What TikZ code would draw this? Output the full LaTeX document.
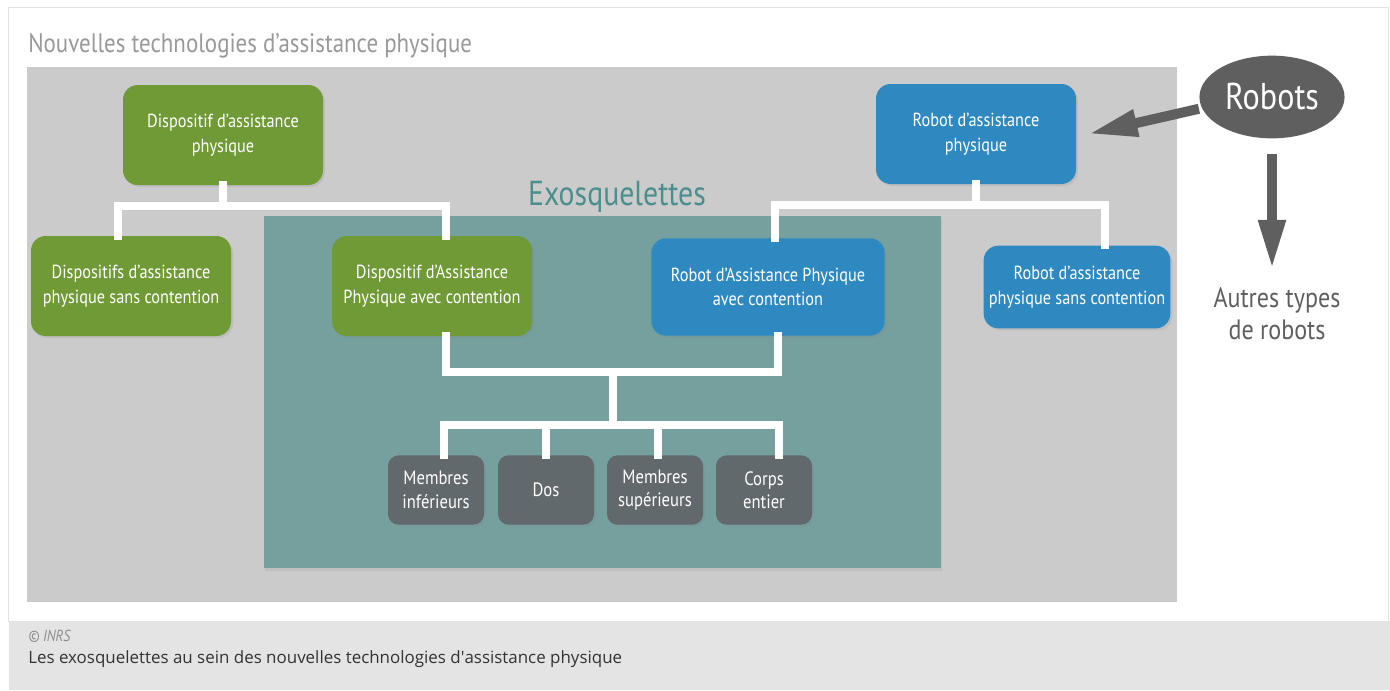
\documentclass[tikz,border=0pt]{standalone}
\usepackage{fontspec}
\setmainfont{PT Sans}[FakeStretch=0.86]
\newfontfamily\capfont{Open Sans}
\usetikzlibrary{shapes.geometric,arrows.meta,shadows}

\definecolor{framegray}{HTML}{E2E2E2}
\definecolor{capband}{HTML}{E4E4E4}
\definecolor{panelgray}{HTML}{CBCBCB}
\definecolor{exoteal}{HTML}{75A09E}
\definecolor{exotitle}{HTML}{4A8F8D}
\definecolor{dispgreen}{HTML}{6F9A36}
\definecolor{robotblue}{HTML}{2E89C1}
\definecolor{partgray}{HTML}{62696C}
\definecolor{arrowgray}{HTML}{5F5F5F}

\tikzset{
  box/.style={rounded corners=11pt, text=white, align=center,
    drop shadow={opacity=0.18, shadow xshift=1.5pt, shadow yshift=-1.5pt},
    font=\fontsize{14.2}{18.5}\selectfont},
  greenbox/.style={box, fill=dispgreen, minimum width=150pt, minimum height=75pt},
  bluebox/.style={box, fill=robotblue},
  partbox/.style={box, fill=partgray, rounded corners=8pt, minimum width=72pt,
    minimum height=52pt, font=\fontsize{14.5}{17.5}\selectfont},
  link/.style={draw=white, line width=6pt},
  bigarrow/.style={draw=arrowgray, line width=7.5pt,
    -{Triangle[length=37pt, width=19pt]}},
}

\begin{document}
\begin{tikzpicture}[x=0.75pt, y=-0.75pt, line cap=rect, line join=miter]
  \useasboundingbox (0,0) rectangle (1390,690);

  % Page frame and caption band
  \draw[framegray, fill=white] (8,7) rectangle (1388,621);
  \fill[capband] (9,621) rectangle (1390,690);

  % Panels
  \fill[panelgray] (27,67) rectangle (1177,602);
  \path[fill=exoteal, drop shadow={opacity=0.15, shadow xshift=1pt, shadow yshift=-2pt}]
    (264,216) rectangle (941,568);

  % Titles
  \node[anchor=base west, inner sep=0pt, text=black!40, font=\fontsize{20}{24}\selectfont]
    (ntitle) at (28,52) {Nouvelles technologies d’assistance physique};
  \node[anchor=base, text=exotitle, font=\fontsize{26}{30}\selectfont]
    (exotitle) at (617,205) {Exosquelettes};

  % Green branch
  \node[greenbox] (gtop)  at (223,135) {Dispositif d’assistance\\physique};
  \node[greenbox] (gleft) at (131,286) {Dispositifs d’assistance\\physique sans contention};
  \node[greenbox] (gavec) at (432,286) {Dispositif d’Assistance\\Physique avec contention};

  % Blue branch
  \node[bluebox, minimum width=150pt, minimum height=75pt]
    (btop)  at (976,134) {Robot d’assistance\\physique};
  \node[bluebox, minimum width=175pt, minimum height=73pt]
    (bavec) at (768,287) {Robot d’Assistance Physique\\avec contention};
  \node[bluebox, minimum width=140pt, minimum height=62pt]
    (bsans) at (1077,287) {Robot d’assistance\\physique sans contention};

  % Body parts
  \node[partbox] (legs)  at (436,490) {Membres\\inférieurs};
  \node[partbox] (back)  at (546,490) {Dos};
  \node[partbox] (arms)  at (655,490) {Membres\\supérieurs};
  \node[partbox] (whole) at (764,490) {Corps\\entier};

  % Robots
  \node[ellipse, fill=arrowgray, minimum width=100pt, minimum height=62pt,
    text=white, font=\fontsize{28}{30}\selectfont] (robots) at (1272,97) {Robots};
  \node[align=center, text=arrowgray, font=\fontsize{21}{24}\selectfont]
    (others) at (1277,314) {Autres types\\de robots};

  % Connectors
  \draw[link] ([xshift=-9.75pt]gleft.north) -- ++(0,-30) coordinate (gbar)
    -| ([xshift=10.5pt]gavec.north);
  \draw[link] (gtop.south) -- (gtop.south |- gbar);
  \draw[link] ([xshift=5pt]bavec.north) -- ++(0,-33) coordinate (bbar)
    -| ([xshift=21pt]bsans.north);
  \draw[link] (btop.south) -- (btop.south |- bbar);
  \draw[link] ([xshift=10.5pt]gavec.south) -- ++(0,36) coordinate (exobar)
    -| ([xshift=7.5pt]bavec.south);
  \coordinate (exomid) at (613,372);
  \coordinate (partbar) at (613,425);
  \draw[link] (exomid) -- (partbar);
  \draw[link] ([xshift=6pt]legs.north) |- (partbar);
  \draw[link] (back.north) -- (back.north |- partbar);
  \draw[link] ([xshift=2pt]arms.north) -- ([xshift=2pt]arms.north |- partbar);
  \draw[link] ([xshift=11pt]whole.north) |- (partbar);

  % Arrows out of Robots
  \draw[bigarrow, shorten <=6pt] (robots.189) -- ([xshift=9pt]btop.east);
  \draw[bigarrow, shorten >=10.5pt] ([yshift=-15pt]robots.south)
    -- (robots.south |- others.north);

  % Caption
  \node[anchor=base west, inner sep=0pt, text=black!45, font=\fontsize{12}{14}\selectfont\itshape]
    (credit) at (28,641) {© INRS};
  \node[anchor=base west, inner sep=0pt, text=black!80, font=\capfont\fontsize{12.7}{15}\selectfont]
    (caption) at (28,663) {Les exosquelettes au sein des nouvelles technologies d\textquotesingle assistance physique};
\end{tikzpicture}
\end{document}
